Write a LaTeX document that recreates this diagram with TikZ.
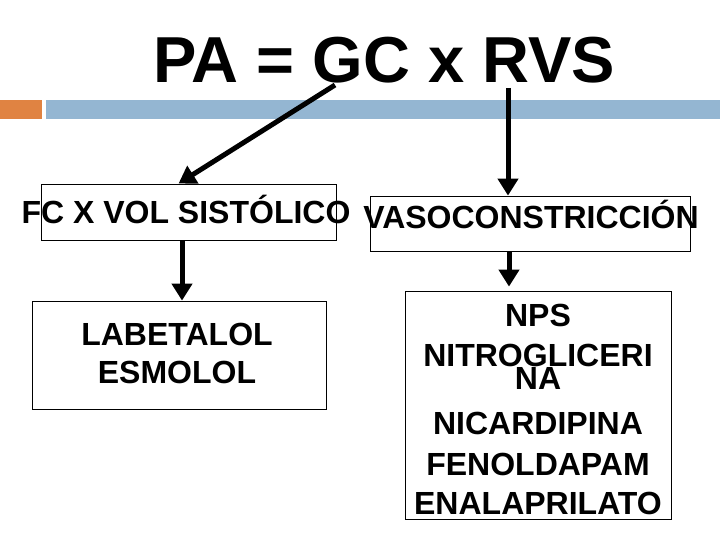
\documentclass[tikz,border=0pt]{standalone}
\usepackage{fontspec}
\setmainfont{Liberation Sans}
\usetikzlibrary{arrows.meta}
\definecolor{barorange}{RGB}{224,131,66}
\definecolor{barblue}{RGB}{148,182,210}
\begin{document}
\begin{tikzpicture}[x=1pt,y=-1pt,
  boxnode/.style={draw=black,line width=0.8pt,rectangle,inner sep=0pt},
  bigtxt/.style={font=\bfseries\fontsize{65}{78}\selectfont,inner sep=0pt,anchor=base},
  txt/.style={font=\bfseries\fontsize{32}{38}\selectfont,inner sep=0pt,anchor=base},
  bigarrow/.style={line width=5pt,-{Triangle[length=17pt,width=20pt]}}]
\useasboundingbox[fill=white] (0,0) rectangle (720,540);
% header bars
\fill[barorange] (0,100) rectangle (42,119);
\fill[barblue] (46,100) rectangle (720,119);
% title
\node[bigtxt] (title) at (384,83) {PA = GC x RVS};
% boxes
\node[boxnode,minimum width=295pt,minimum height=56pt] (boxA) at (188.5,212) {};
\node[boxnode,minimum width=320pt,minimum height=55pt] (boxB) at (530,223.5) {};
\node[boxnode,minimum width=294pt,minimum height=108pt] (boxC) at (179,355) {};
\node[boxnode,minimum width=266pt,minimum height=228pt] (boxD) at (538,405) {};
% texts
\node[txt] (tA) at (186,224) {FC X VOL SISTÓLICO};
\node[txt] (tB) at (531,229) {VASOCONSTRICCIÓN};
\node[txt] (tC1) at (177,345) {LABETALOL};
\node[txt] (tC2) at (177,383) {ESMOLOL};
\node[txt] (tD1) at (538,326.5) {NPS};
\node[txt] (tD2) at (538,366.5) {NITROGLICERI};
\node[txt] (tD3) at (538,389.5) {NA};
\node[txt] (tD4) at (538,434.5) {NICARDIPINA};
\node[txt] (tD5) at (538,475.5) {FENOLDAPAM};
\node[txt] (tD6) at (538,514.5) {ENALAPRILATO};
% arrows
\coordinate (a1s) at (335,85);
\coordinate (a2s) at (508,88);
\coordinate (a3x) at (182,0);
\coordinate (a4x) at (509,0);
\draw[bigarrow] (a1s) -- ([xshift=-10pt]boxA.north);
\draw[bigarrow] (a2s) -- (a2s |- boxB.north);
\draw[bigarrow] (a3x |- boxA.south) -- (a3x |- boxC.north);
\draw[bigarrow] (a4x |- boxB.south) -- ([yshift=4pt]a4x |- boxD.north);
\end{tikzpicture}
\end{document}
